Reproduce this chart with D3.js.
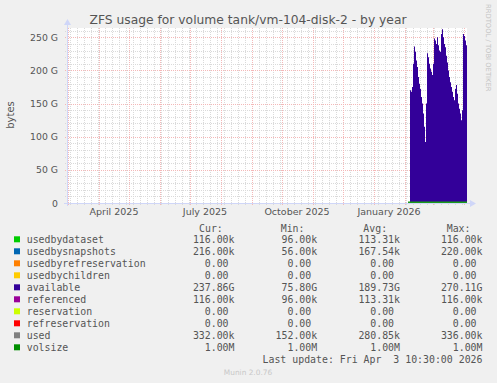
<!DOCTYPE html>
<html>
<head>
<meta charset="utf-8">
<script src="https://cdn.jsdelivr.net/npm/d3@7"></script>
<style>
  body { margin: 0; background: #f0f0f0; }
  svg { display: block; font-family: "DejaVu Sans", sans-serif; }
  .mono { font-family: "DejaVu Sans Mono", monospace; font-size: 9.9px; fill: #555; white-space: pre; }
</style>
</head>
<body>
<svg id="chart" width="497" height="383"></svg>
<script>
// time window (munin "by year" = 400 days)
const endDate = "2026-04-04";
const spanDays = 400;

// available, in G, one value per day starting at availStart
const availStart = "2026-02-06";
const available = [170, 168, 175, 210, 236, 228, 215, 205, 190, 180, 172, 160, 150, 135, 115, 92,
  150, 226, 220, 210, 203, 198, 193, 210, 248, 245, 240, 250, 238, 230, 228, 255, 262, 250, 240,
  235, 222, 212, 200, 190, 182, 175, 168, 160, 155, 172, 178, 165, 150, 142, 135, 125, 140, 255,
  252, 245, 238];

// volsize (1.00M, in G)
const volsizeDates = ["2026-02-04", "2026-04-04"];
const volsize = [0.001, 0.001];

const yMax = 264;
const yTicks = [0, 50, 100, 150, 200, 250];
const yTickLabels = ["0", "50 G", "100 G", "150 G", "200 G", "250 G"];
const monthLabels = ["2025-04-01", "2025-07-01", "2025-10-01", "2026-01-01"];

// legend
const names = ["usedbydataset", "usedbysnapshots", "usedbyrefreservation", "usedbychildren",
  "available", "referenced", "reservation", "refreservation", "used", "volsize"];
const colors = ["#00cc00", "#0066b3", "#ff8000", "#ffcc00", "#330099", "#990099", "#ccff00",
  "#ff0000", "#808080", "#008f00"];
const curVals = ["116.00k", "216.00k", "0.00 ", "0.00 ", "237.86G", "116.00k", "0.00 ", "0.00 ", "332.00k", "1.00M"];
const minVals = ["96.00k", "56.00k", "0.00 ", "0.00 ", "75.80G", "96.00k", "0.00 ", "0.00 ", "152.00k", "1.00M"];
const avgVals = ["113.31k", "167.54k", "0.00 ", "0.00 ", "189.73G", "113.31k", "0.00 ", "0.00 ", "280.85k", "1.00M"];
const maxVals = ["116.00k", "220.00k", "0.00 ", "0.00 ", "270.11G", "116.00k", "0.00 ", "0.00 ", "336.00k", "1.00M"];

const svg = d3.select("#chart");
const pL = 67, pR = 467, pT = 28, pB = 203;

const end = new Date(endDate + "T00:00:00Z");
const start = d3.utcDay.offset(end, -spanDays);
const x = d3.scaleUtc().domain([start, end]).range([pL, pR]);
const y = d3.scaleLinear().domain([0, yMax]).range([pB, pT]);

// canvas
svg.append("rect").attr("x", pL).attr("y", pT)
  .attr("width", pR - pL).attr("height", pB - pT).attr("fill", "#fff");

// title
svg.append("text").attr("x", 248).attr("y", 23.5).attr("text-anchor", "middle")
  .attr("font-size", 12.3).attr("fill", "#555")
  .text("ZFS usage for volume tank/vm-104-disk-2 - by year");

// grid
const minorC = "#dadada", majorC = "#f4b8b8";
const grid = svg.append("g").attr("shape-rendering", "crispEdges");
grid.selectAll(".hmin").data(d3.range(0, yMax, 10)).enter().append("line")
  .attr("x1", pL - 2).attr("x2", pR)
  .attr("y1", d => Math.round(y(d)) + 0.5).attr("y2", d => Math.round(y(d)) + 0.5)
  .attr("stroke", minorC).attr("stroke-dasharray", "1,1");
grid.selectAll(".vmin").data(d3.utcMonday.range(start, end)).enter().append("line")
  .attr("x1", d => Math.round(x(d)) + 0.5).attr("x2", d => Math.round(x(d)) + 0.5)
  .attr("y1", pT).attr("y2", pB + 2)
  .attr("stroke", minorC).attr("stroke-dasharray", "1,1");
grid.selectAll(".hmaj").data(yTicks).enter().append("line")
  .attr("x1", pL - 2).attr("x2", pR)
  .attr("y1", d => Math.round(y(d)) + 0.5).attr("y2", d => Math.round(y(d)) + 0.5)
  .attr("stroke", majorC).attr("stroke-dasharray", "1,1");
grid.selectAll(".vmaj").data(d3.utcMonth.range(start, end)).enter().append("line")
  .attr("x1", d => Math.round(x(d)) + 0.5).attr("x2", d => Math.round(x(d)) + 0.5)
  .attr("y1", pT).attr("y2", pB + 2)
  .attr("stroke", majorC).attr("stroke-dasharray", "1,1");

// available area
const s0 = new Date(availStart + "T00:00:00Z");
const pts = available.map((v, i) => ({ t: d3.utcDay.offset(s0, i), v: v }));
pts.push({ t: d3.utcDay.offset(s0, available.length), v: available[available.length - 1] });
svg.append("path").datum(pts)
  .attr("fill", colors[4])
  .attr("d", d3.area().curve(d3.curveStepAfter)
    .x(d => x(d.t)).y0(y(0)).y1(d => y(d.v)));

// volsize line
const vol = volsizeDates.map((d, i) => ({ t: new Date(d + "T00:00:00Z"), v: volsize[i] }));
svg.append("path").datum(vol)
  .attr("fill", "none").attr("stroke", "#1a9a1a").attr("stroke-width", 1.6)
  .attr("d", d3.line().x(d => x(d.t)).y(d => y(d.v) - 0.8));

// axes
const axisColor = "#cfd6f8";
svg.append("line").attr("x1", pL - 3).attr("x2", pR + 4)
  .attr("y1", pB + 0.5).attr("y2", pB + 0.5).attr("stroke", axisColor);
svg.append("line").attr("x1", pL + 0.5).attr("x2", pL + 0.5)
  .attr("y1", pB + 3).attr("y2", pT - 4).attr("stroke", axisColor);
svg.append("path").attr("fill", axisColor)
  .attr("d", `M${pR + 3},${pB - 3}L${pR + 9},${pB + 0.5}L${pR + 3},${pB + 4}Z`);
svg.append("path").attr("fill", axisColor)
  .attr("d", `M${pL - 3},${pT - 3}L${pL + 0.5},${pT - 9}L${pL + 4},${pT - 3}Z`);

// y labels
svg.append("g").selectAll("text").data(yTicks).enter().append("text")
  .attr("x", 58).attr("y", d => y(d) + 3.5).attr("text-anchor", "end")
  .attr("font-size", 9.3).attr("fill", "#555")
  .text((d, i) => yTickLabels[i]);
svg.append("text").attr("transform", "translate(13.5,115) rotate(-90)")
  .attr("text-anchor", "middle").attr("font-size", 10).attr("fill", "#555").text("bytes");

// x labels, centred half a month after the month start
const fmt = d3.utcFormat("%B %Y");
svg.append("g").selectAll("text").data(monthLabels).enter().append("text")
  .attr("x", d => x(d3.utcDay.offset(new Date(d + "T00:00:00Z"), 15)))
  .attr("y", 215).attr("text-anchor", "middle")
  .attr("font-size", 9.5).attr("fill", "#555")
  .text(d => fmt(new Date(d + "T00:00:00Z")));

// side text
svg.append("text").attr("transform", "translate(485.5,4) rotate(90)")
  .attr("font-size", 6.8).attr("fill", "#c4c4c4").text("RRDTOOL / TOBI OETIKER");

// legend
const lg = svg.append("g");
const heads = [["Cur:", 199], ["Min:", 280.7], ["Avg:", 363.3], ["Max:", 446.7]];
lg.selectAll(".hd").data(heads).enter().append("text").attr("class", "mono")
  .attr("x", d => d[1]).attr("y", 231.8).text(d => d[0]);
const rowY = i => 239.3 + i * 12;
lg.selectAll(".sw").data(names).enter().append("rect")
  .attr("x", 14).attr("y", (d, i) => rowY(i) - 3).attr("width", 6).attr("height", 6)
  .attr("fill", (d, i) => colors[i]);
lg.selectAll(".nm").data(names).enter().append("text").attr("class", "mono")
  .attr("x", 26.7).attr("y", (d, i) => rowY(i) + 3.5).text(d => d);
const cols = [[curVals, 234.5], [minVals, 317.2], [avgVals, 400], [maxVals, 482.5]];
cols.forEach(c => {
  lg.selectAll(null).data(c[0]).enter().append("text").attr("class", "mono")
    .attr("x", c[1]).attr("y", (d, i) => rowY(i) + 3.5).attr("text-anchor", "end")
    .text(d => d.replace(" ", "\u00a0"));
});
lg.append("text").attr("class", "mono").attr("x", 482.5).attr("y", rowY(10) + 3.5)
  .attr("text-anchor", "end").text("Last update: Fri Apr  3 10:30:00 2026");

svg.append("text").attr("x", 248).attr("y", 375).attr("text-anchor", "middle")
  .attr("font-size", 7.4).attr("fill", "#c8c8c8").text("Munin 2.0.76");
</script>
</body>
</html>
